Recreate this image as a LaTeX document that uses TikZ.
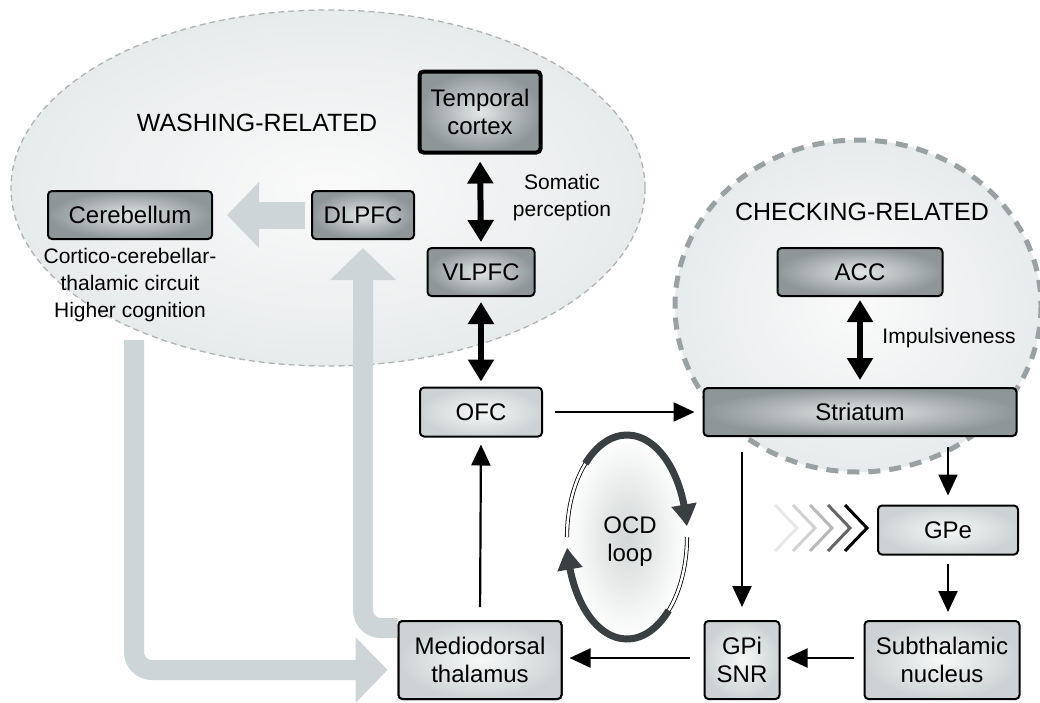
\documentclass[tikz,border=0pt]{standalone}
\usepackage{fontspec}
\setmainfont{Liberation Sans}
\usetikzlibrary{arrows.meta,bending,calc}
\definecolor{boxdark}{HTML}{8E9698}
\definecolor{boxdarkin}{HTML}{E2E6E6}
\definecolor{boxlight}{HTML}{CDD3D4}
\definecolor{boxlightin}{HTML}{F7F8F8}
\definecolor{bigarrow}{HTML}{CDD5D7}
\definecolor{ellout}{HTML}{E8EBEC}
\definecolor{ellin}{HTML}{FAFAFA}
\definecolor{dashgray}{HTML}{9AA1A3}
\definecolor{loopdark}{HTML}{3A4041}
\newcommand\nodefnt{\fontsize{24}{28}\selectfont}
\newcommand\labfnt{\fontsize{21}{27}\selectfont}
\newcommand\headfnt{\fontsize{25}{30}\selectfont}
\tikzset{
  box/.style={draw=black, line width=2pt, rounded corners=4pt, align=center,
    inner sep=0pt, font=\nodefnt},
  darkbox/.style={box, inner color=boxdarkin, outer color=boxdark},
  lightbox/.style={box, inner color=boxlightin, outer color=boxlight},
  thinarrow/.style={line width=2.2pt, -{Triangle[length=21pt,width=19pt]}},
  dblarrow/.style={line width=6pt, {Triangle[length=22pt,width=25pt]}-{Triangle[length=22pt,width=25pt]}},
  grayarrow/.style={draw=bigarrow, line width=20pt, -{Triangle[length=32pt,width=64pt]}},
  lab/.style={font=\labfnt, align=center},
  head/.style={font=\headfnt},
}
\begin{document}
\begin{tikzpicture}[x=1pt,y=-1pt]
\useasboundingbox (0,0) rectangle (1040,702);
\fill[white] (0,0) rectangle (1040,702);

% region ellipses
\shade[inner color=ellin, outer color=ellout] (328,188) ellipse [x radius=317, y radius=178];
\draw[dashgray!80, line width=1.3pt, dash pattern=on 6pt off 4pt] (328,188) ellipse [x radius=317, y radius=178];
\shade[inner color=ellin, outer color=ellout] (858,306) ellipse [x radius=183, y radius=166];
\draw[dashgray, line width=5pt, dash pattern=on 12pt off 9pt] (858,306) ellipse [x radius=183, y radius=166];

% OCD loop
\shade[inner color=boxdarkin!85!gray, outer color=white] (627,537) ellipse [x radius=60, y radius=102];
\draw[line width=0.8pt, double=white, double distance=2.5pt] (627,537) ++(180:60 and 102) arc[start angle=180, end angle=228, x radius=60, y radius=102];
\draw[loopdark, line width=7pt, -{Triangle[length=22pt,width=24pt,bend]}] (627,537) ++(226:60 and 102) arc[start angle=226, end angle=354, x radius=60, y radius=102];
\draw[line width=0.8pt, double=white, double distance=2.5pt] (627,537) ++(0:60 and 102) arc[start angle=0, end angle=48, x radius=60, y radius=102];
\draw[loopdark, line width=7pt, -{Triangle[length=22pt,width=24pt,bend]}] (627,537) ++(46:60 and 102) arc[start angle=46, end angle=174, x radius=60, y radius=102];
\node[font=\nodefnt, align=center] (ocd) at (630,542) {OCD\\loop};

% chevrons
\foreach \tx/\col in {797/gray!18, 815/gray!35, 832/gray!55, 850/gray!80!black, 867/black}{
  \draw[\col, line width=3pt] (\tx-22,505) -- (\tx,528) -- (\tx-22,551);
}

% nodes
\node[darkbox, line width=4pt, minimum width=121pt, minimum height=81pt] (temporal) at (480,112) {Temporal\\cortex};
\node[darkbox, minimum width=102pt, minimum height=48pt] (dlpfc) at (363,215) {DLPFC};
\node[darkbox, minimum width=164pt, minimum height=48pt] (cereb) at (130,215) {Cerebellum};
\node[darkbox, minimum width=107pt, minimum height=48pt] (vlpfc) at (481,272) {VLPFC};
\node[darkbox, minimum width=165pt, minimum height=48pt] (acc) at (860,272) {ACC};
\node[darkbox, minimum width=313pt, minimum height=48pt] (striatum) at (860,412) {Striatum};
\node[lightbox, minimum width=122pt, minimum height=49pt] (ofc) at (481,412) {OFC};
\node[lightbox, minimum width=140pt, minimum height=49pt] (gpe) at (948,530) {GPe};
\node[lightbox, minimum width=155pt, minimum height=78pt] (stn) at (942,660) {Subthalamic\\nucleus};
\node[lightbox, minimum width=75pt, minimum height=78pt] (gpi) at (742,660) {GPi\\SNR};
\node[lightbox, minimum width=163pt, minimum height=78pt] (md) at (480,660) {Mediodorsal\\thalamus};

% labels
\node[head] (wash) at (257,123) {WASHING-RELATED};
\node[head] (check) at (862,212) {CHECKING-RELATED};
\node[lab] (somatic) at (562,198) {Somatic\\perception};
\node[lab] (cortico) at (130,285) {Cortico-cerebellar-\\thalamic circuit\\Higher cognition};
\node[lab] (impuls) at (949,338) {Impulsiveness};

% big gray arrows
\coordinate (cbstart) at (134,340);
\draw[grayarrow, line width=27pt, shorten <=6pt, shorten >=14pt] (dlpfc.west) -- (cereb.east);
\draw[grayarrow, rounded corners=18pt] ([yshift=32pt]md.west) -| ([yshift=-8pt]dlpfc.south);
\draw[grayarrow, rounded corners=18pt, shorten >=10pt] (cbstart) |- ([yshift=-10pt]md.west);
% redraw box overlapped by gray arrows
\node[lightbox, minimum width=163pt, minimum height=78pt] at (480,660) {Mediodorsal\\thalamus};

% black arrows
\draw[dblarrow, shorten <=7pt, shorten >=5pt] (temporal.south) -- (vlpfc.north);
\draw[dblarrow, shorten <=5pt, shorten >=5pt] (vlpfc.south) -- (ofc.north);
\draw[dblarrow, shorten <=3pt, shorten >=7pt] (acc.south) -- (striatum.north);
\draw[thinarrow, shorten <=12pt, shorten >=8pt] (ofc.east) -- (striatum.west);
\draw[thinarrow, shorten <=13pt, shorten >=7pt] (md.north) -- (ofc.south);
\draw[thinarrow, shorten <=15pt, shorten >=13pt] (gpi.north |- striatum.south) -- (gpi.north);
\draw[thinarrow, shorten <=10pt, shorten >=9pt] (gpe.north |- striatum.south) -- (gpe.north);
\draw[thinarrow, shorten <=8pt, shorten >=8pt] (gpe.south) -- (gpe.south |- stn.north);
\draw[thinarrow, shorten <=10pt, shorten >=6pt] ([yshift=2pt]stn.west) -- ([yshift=2pt]gpi.east);
\draw[thinarrow, shorten <=14pt, shorten >=7pt] ([yshift=2pt]gpi.west) -- ([yshift=2pt]md.east);
\end{tikzpicture}
\end{document}
